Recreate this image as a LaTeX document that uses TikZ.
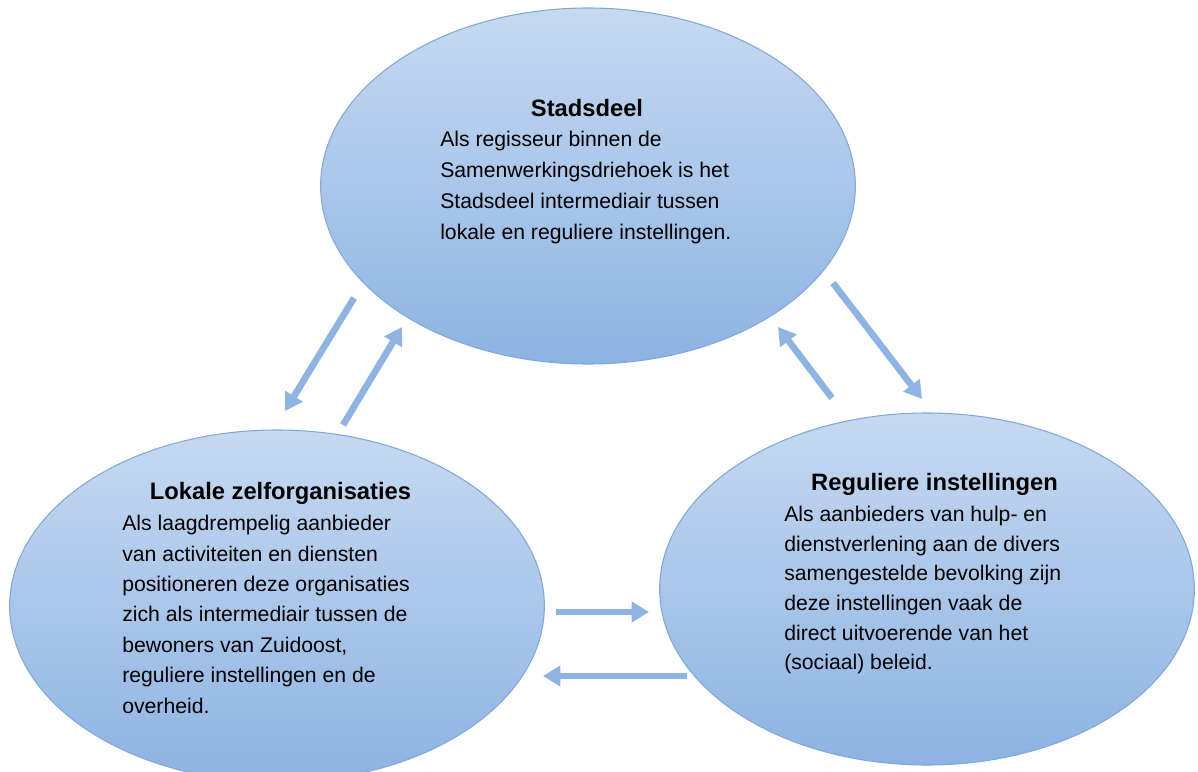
\documentclass[tikz,border=0pt]{standalone}
\usepackage{fontspec}
\setmainfont{Liberation Sans}
\usetikzlibrary{shapes.geometric,arrows.meta}
\definecolor{bubtop}{RGB}{198,217,241}
\definecolor{bubbot}{RGB}{141,179,226}
\definecolor{bubline}{RGB}{128,168,220}
\definecolor{pijlblauw}{RGB}{141,180,226}
\tikzset{
	bubble/.style={ellipse, draw=bubline, line width=.8pt, top color=bubtop, bottom color=bubbot, minimum width=401pt, minimum height=264pt, inner sep=0pt},
	kop/.style={anchor=base, inner sep=0pt, font=\bfseries\fontsize{17.8}{20}\selectfont},
	tekst/.style={anchor=north west, inner sep=0pt, align=left},
	pijl/.style={-{Triangle[length=13pt,width=15pt]}, line width=5pt, draw=pijlblauw}
}
\begin{document}
\begin{tikzpicture}[x=.75pt, y=-.75pt, line join=round]
		\useasboundingbox (0,0) rectangle (1198,771);
		% de drie partijen
		\node[bubble, minimum height=267pt] (sd) at (588,186) {};
		\node[bubble] (lz) at (277,606) {};
		\node[bubble] (ri) at (927,589) {};
		
		\node[kop] (sdkop) at (587,116) {Stadsdeel};
		\node[tekst, font=\fontsize{15.9}{23.25}\selectfont] (sdtekst) at (440,131) {Als regisseur binnen de\\Samenwerkingsdriehoek is het\\Stadsdeel intermediair tussen\\lokale en reguliere instellingen.};
		
		\node[kop] (lzkop) at (280.5,499) {Lokale zelforganisaties};
		\node[tekst, font=\fontsize{15.9}{22.8}\selectfont] (lztekst) at (122,515) {Als laagdrempelig aanbieder\\van activiteiten en diensten\\positioneren deze organisaties\\zich als intermediair tussen de\\bewoners van Zuidoost,\\reguliere instellingen en de\\overheid.};
		
		\node[kop] (rikop) at (934.5,490) {Reguliere instellingen};
		\node[tekst, font=\fontsize{15.9}{22.2}\selectfont] (ritekst) at (784,506) {Als aanbieders van hulp- en\\dienstverlening aan de divers\\samengestelde bevolking zijn\\deze instellingen vaak de\\direct uitvoerende van het\\(sociaal) beleid.};
		
		% uiteinden van de pijlen
		\coordinate (sdlz1) at (354,298); \coordinate (sdlz2) at (285,411);
		\coordinate (lzsd1) at (343,425); \coordinate (lzsd2) at (402,327);
		\coordinate (sdri1) at (833,283); \coordinate (sdri2) at (922,399);
		\coordinate (risd1) at (832,398); \coordinate (risd2) at (778,327);
		\coordinate (lzri1) at (556,612); \coordinate (lzri2) at (649,612);
		\coordinate (rilz1) at (687,676); \coordinate (rilz2) at (543,676);
		
		\foreach \a/\b in {sdlz1/sdlz2,lzsd1/lzsd2,sdri1/sdri2,risd1/risd2,lzri1/lzri2,rilz1/rilz2}\draw[pijl](\a)--(\b);
		
	\end{tikzpicture}
\end{document}
